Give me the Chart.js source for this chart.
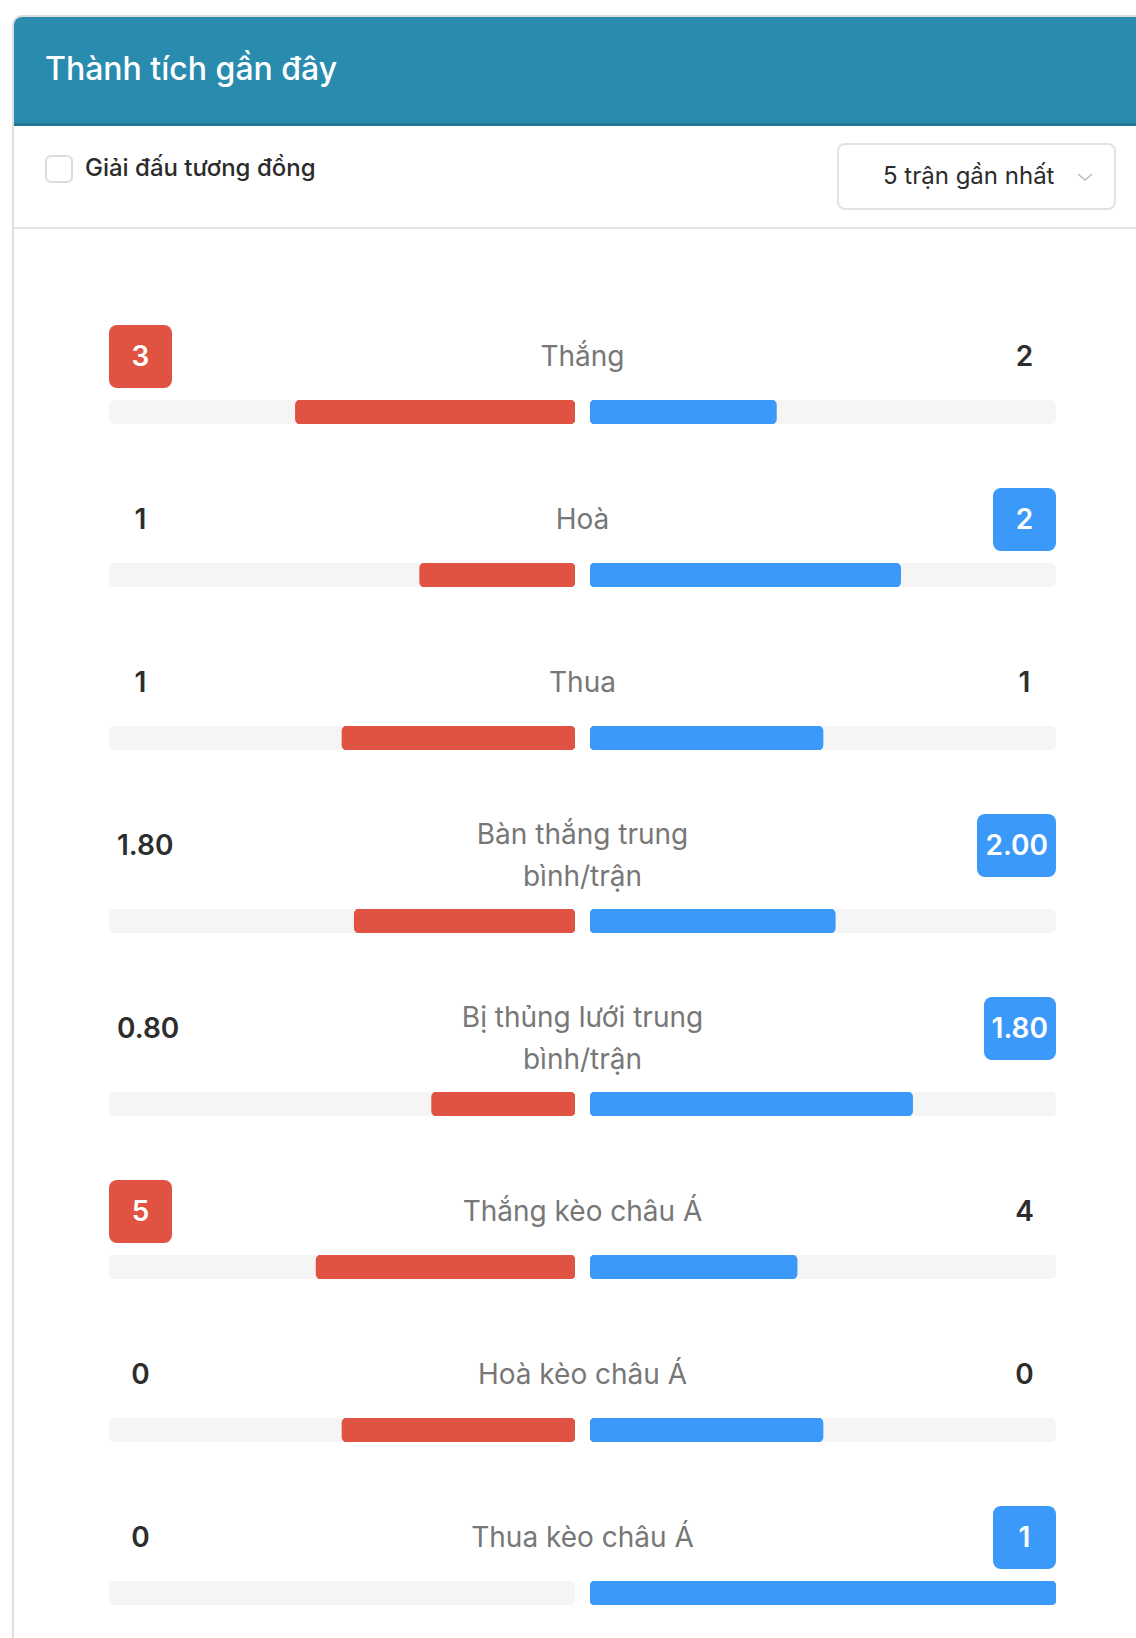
<!DOCTYPE html>
<html lang="vi">
<head>
<meta charset="utf-8">
<title>Thành tích gần đây</title>
<script src="https://cdn.jsdelivr.net/npm/chart.js@4.4.1/dist/chart.umd.min.js"></script>
<style>
  html, body { margin: 0; padding: 0; background: #ffffff; }
  body { width: 1136px; height: 1638px; overflow: hidden; position: relative; font-family: Inter, "Noto Sans", "DejaVu Sans", sans-serif; }
  .card { position: absolute; left: 12px; top: 15px; width: 1200px; height: 1700px; border: 2px solid #dedede; border-right: none; border-radius: 10px 0 0 0; box-sizing: border-box; overflow: hidden; background: #fff; }
  .header { position: absolute; left: 0; top: 0; right: 0; height: 109px; background: #298cae; border-bottom: 3px solid #1f7898; box-sizing: border-box; }
  .header h1 { margin: 0; position: absolute; left: 31px; top: 32px; line-height: 40px; font-size: 32px; font-weight: 500; color: #fff; letter-spacing: 0; }
  .chk { position: absolute; left: 31px; top: 138px; width: 28px; height: 28px; border: 2px solid #dcdcdc; border-radius: 6px; box-sizing: border-box; background: #fff; }
  .chk-label { position: absolute; left: 71px; top: 134px; line-height: 34px; font-size: 24px; font-weight: 500; color: #2b2b2b; }
  .select { position: absolute; left: 823px; top: 126px; width: 279px; height: 67px; border: 2px solid #e2e2e2; border-radius: 8px; box-sizing: border-box; }
  .select span { position: absolute; left: 44px; top: 14px; line-height: 34px; font-size: 24px; font-weight: 400; color: #2b2b2b; }
  .select svg { position: absolute; left: 238px; top: 27px; }
  .divider { position: absolute; left: 0; right: 0; top: 210px; height: 2px; background: #e4e4e4; }
  .stats { position: absolute; left: 109px; top: 325px; width: 947px; }
  .row { margin-bottom: 64px; }
  .top { display: grid; grid-template-columns: 1fr auto 1fr; align-items: start; }
  .val { min-width: 63px; height: 63px; line-height: 63px; padding: 0 8px; box-sizing: border-box; text-align: center; font-size: 28px; font-weight: 600; color: #2d2d2d; border-radius: 8px; }
  .val.left { justify-self: start; }
  .val.right { justify-self: end; }
  .val.home-hi { background: #e05242; color: #fff; }
  .val.away-hi { background: #3b99fa; color: #fff; }
  .label { max-width: 290px; min-height: 63px; display: flex; align-items: center; justify-content: center; text-align: center; font-size: 28px; line-height: 41.5px; font-weight: 400; color: #777777; }
  .bars { display: flex; justify-content: space-between; margin-top: 12px; height: 24px; }
  .bars canvas { display: block; }
</style>
</head>
<body>
<div class="card">
  <div class="header"><h1>Thành tích gần đây</h1></div>
  <div class="chk"></div>
  <div class="chk-label">Giải đấu tương đồng</div>
  <div class="select"><span>5 trận gần nhất</span>
    <svg width="16" height="10" viewBox="0 0 16 10"><polyline points="1,2 8,8 15,2" fill="none" stroke="#b9b9b9" stroke-width="1.4"/></svg>
  </div>
  <div class="divider"></div>
</div>
<div class="stats" id="stats"></div>

<script>
// ---- data ----
const categories = [
  "Thắng",
  "Hoà",
  "Thua",
  "Bàn thắng trung bình/trận",
  "Bị thủng lưới trung bình/trận",
  "Thắng kèo châu Á",
  "Hoà kèo châu Á",
  "Thua kèo châu Á"
];
const homeValues = [3, 1, 1, 1.80, 0.80, 5, 0, 0];
const awayValues = [2, 2, 1, 2.00, 1.80, 4, 0, 1];
const valueDecimals = [0, 0, 0, 2, 2, 0, 0, 0];

// ---- colours ----
const HOME_COLOR = "#e05242";
const AWAY_COLOR = "#3b99fa";
const TRACK_COLOR = "#f5f5f5";

const trackPlugin = {
  id: "track",
  beforeDatasetsDraw(chart) {
    const { ctx, chartArea: a } = chart;
    ctx.save();
    ctx.fillStyle = TRACK_COLOR;
    ctx.beginPath();
    ctx.roundRect(a.left, a.top, a.right - a.left, a.bottom - a.top, 5);
    ctx.fill();
    ctx.restore();
  }
};

function makeBar(canvas, value, color, reverse) {
  return new Chart(canvas, {
    type: "bar",
    data: {
      labels: [""],
      datasets: [{
        data: [value > 0 ? value : null],
        backgroundColor: color,
        borderRadius: 5,
        borderSkipped: false,
        barPercentage: 1,
        categoryPercentage: 1
      }]
    },
    options: {
      indexAxis: "y",
      responsive: false,
      maintainAspectRatio: false,
      animation: false,
      events: [],
      layout: { padding: 0 },
      plugins: { legend: { display: false }, tooltip: { enabled: false } },
      scales: {
        x: { display: false, min: 0, max: 1, reverse: reverse },
        y: { display: false }
      }
    },
    plugins: [trackPlugin]
  });
}

const stats = document.getElementById("stats");
categories.forEach((cat, i) => {
  const h = homeValues[i], a = awayValues[i];
  const sum = h + a;
  const hShare = sum > 0 ? h / sum : 0.5;
  const aShare = sum > 0 ? a / sum : 0.5;

  const row = document.createElement("div");
  row.className = "row";
  const top = document.createElement("div");
  top.className = "top";

  const lv = document.createElement("div");
  lv.className = "val left" + (h > a ? " home-hi" : "");
  lv.textContent = h.toFixed(valueDecimals[i]);
  const lb = document.createElement("div");
  lb.className = "label";
  lb.textContent = cat;
  const rv = document.createElement("div");
  rv.className = "val right" + (a > h ? " away-hi" : "");
  rv.textContent = a.toFixed(valueDecimals[i]);
  top.append(lv, lb, rv);

  const bars = document.createElement("div");
  bars.className = "bars";
  const cl = document.createElement("canvas");
  cl.width = 466; cl.height = 24;
  const cr = document.createElement("canvas");
  cr.width = 466; cr.height = 24;
  bars.append(cl, cr);

  row.append(top, bars);
  stats.appendChild(row);

  makeBar(cl, hShare, HOME_COLOR, true);
  makeBar(cr, aShare, AWAY_COLOR, false);
});
</script>
</body>
</html>
